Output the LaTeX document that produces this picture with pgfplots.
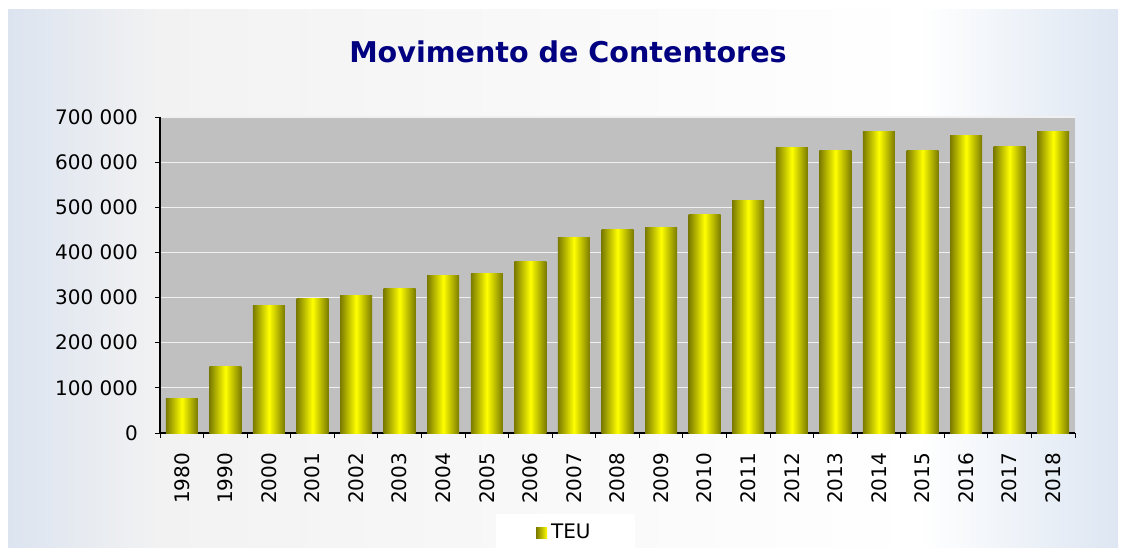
\documentclass[border=0pt]{standalone}
\usepackage{pgfplots}
\pgfplotsset{compat=1.18}
\usepackage{fontspec}
\setmainfont{DejaVu Sans}
\definecolor{navytitle}{HTML}{000080}
\definecolor{plotgrey}{HTML}{C0C0C0}
\definecolor{olivebar}{HTML}{7A7A00}
\definecolor{yellowbar}{HTML}{FFFF00}
\definecolor{bgblue}{HTML}{DCE4F0}
\definecolor{bggrey}{HTML}{F2F2F2}
\definecolor{bgblueR}{HTML}{DDE6F2}
\definecolor{gridc}{HTML}{F0F0F0}
\pgfplotsset{
  teubar/.style={ybar, bar width=16pt, bar shift=0pt, draw=none,
    left color=olivebar, right color=olivebar, middle color=yellowbar},
}
\begin{document}
\begin{tikzpicture}[x=0.5pt,y=0.5pt]
% page
\fill[white] (0,0) rectangle (1125,550);
\shade[left color=bgblue, right color=bggrey] (8,2) rectangle (160,540);
\shade[left color=bggrey, right color=white] (160,2) rectangle (920,540);
\shade[left color=white, right color=bgblueR] (920,2) rectangle (1118,540);
\node[font=\bfseries\fontsize{14.3}{16}\selectfont, text=navytitle] at (568,498) {Movimento de Contentores};
\begin{axis}[
  at={(80pt,58.5pt)}, anchor=south west,
  scale only axis,
  width=457.5pt, height=158pt,
  xmin=-0.5, xmax=20.5,
  ymin=0, ymax=700000,
  axis x line*=bottom, axis y line*=left,
  axis line style={-, black, line width=0.6pt},
  axis background/.style={fill=plotgrey},
  ymajorgrids, grid style={gridc, line width=0.55pt},
  tick align=outside,
  major tick length=2.5pt, minor tick length=2.5pt,
  tick style={black, line width=0.5pt},
  xtick={0,...,20},
  xticklabels={1980,1990,2000,2001,2002,2003,2004,2005,2006,2007,2008,2009,2010,2011,2012,2013,2014,2015,2016,2017,2018},
  x tick style={draw=none},
  minor xtick={-0.5,0.5,...,20.5},
  minor x tick style={draw=black, line width=0.5pt},
  ytick={0,100000,...,700000},
  yticklabels={0,100 000,200 000,300 000,400 000,500 000,600 000,700 000},
  scaled y ticks=false,
  ticklabel style={font=\fontsize{10}{12}\selectfont, text=black},
  yticklabel style={xshift=-5pt},
  xticklabel style={rotate=90, anchor=east},
  xticklabel shift=4pt,
  /pgf/number format/assume math mode=true,
  legend style={at={(0.443,-0.316)}, anchor=center, draw=none, fill=white,
    font=\fontsize{10}{12}\selectfont, inner xsep=20pt, inner ysep=3pt},
  legend image code/.code={\fill[left color=olivebar, right color=yellowbar] (0pt,-2.75pt) rectangle (5.5pt,2.75pt);},
]
\addplot[teubar] coordinates {(0,76000)};
\addlegendentry{TEU}
\addplot[teubar, forget plot] coordinates {(1,147000)};
\addplot[teubar, forget plot] coordinates {(2,282000)};
\addplot[teubar, forget plot] coordinates {(3,297500)};
\addplot[teubar, forget plot] coordinates {(4,304000)};
\addplot[teubar, forget plot] coordinates {(5,320000)};
\addplot[teubar, forget plot] coordinates {(6,348000)};
\addplot[teubar, forget plot] coordinates {(7,353000)};
\addplot[teubar, forget plot] coordinates {(8,379500)};
\addplot[teubar, forget plot] coordinates {(9,432600)};
\addplot[teubar, forget plot] coordinates {(10,450000)};
\addplot[teubar, forget plot] coordinates {(11,455000)};
\addplot[teubar, forget plot] coordinates {(12,483600)};
\addplot[teubar, forget plot] coordinates {(13,514600)};
\addplot[teubar, forget plot] coordinates {(14,632000)};
\addplot[teubar, forget plot] coordinates {(15,625000)};
\addplot[teubar, forget plot] coordinates {(16,667500)};
\addplot[teubar, forget plot] coordinates {(17,625000)};
\addplot[teubar, forget plot] coordinates {(18,658600)};
\addplot[teubar, forget plot] coordinates {(19,634000)};
\addplot[teubar, forget plot] coordinates {(20,667500)};
\end{axis}
\end{tikzpicture}
\end{document}
